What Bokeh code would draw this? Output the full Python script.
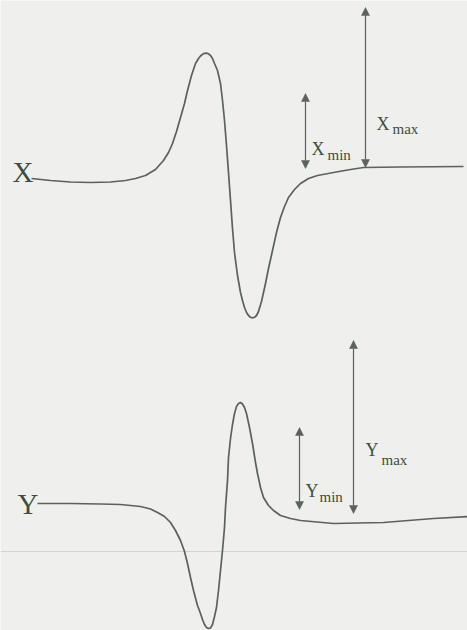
from bokeh.plotting import figure
from bokeh.models import Range1d, Arrow, NormalHead
from bokeh.core.properties import value
from bokeh.embed import file_html
from bokeh.resources import INLINE

# Upper trace (X): horizontal position and vertical level (downward-growing frame)
x_trace_pos = [31, 50, 70, 90, 110, 125, 135, 145, 155, 163, 168, 172, 176, 180,
               184, 187, 191, 195, 198, 200, 202, 204, 206, 208, 210, 212, 214,
               217, 220, 222, 224, 226, 228, 230, 232, 234, 237, 240, 242, 244,
               246, 248, 250, 252, 254, 256, 258, 261, 265, 268, 272, 276, 280,
               284, 288, 294, 300, 308, 317, 333, 350, 363, 400, 463]
x_trace_val = [178, 180, 181.5, 182, 181.5, 180, 178, 175, 169, 160, 152, 143, 131,
               117, 103, 90, 75, 63, 58, 55.5, 53.8, 52.8, 52.6, 53.3, 55, 58, 63,
               70, 83, 100, 120, 145, 172, 200, 228, 252, 275, 292, 300, 307,
               312, 315, 316.8, 317.4, 316.8, 315, 311, 301, 283, 268, 250, 232,
               217, 206, 197, 189, 183, 178, 175, 172, 169, 167, 166.5, 166]

# Lower trace (Y)
y_trace_pos = [37, 70, 100, 120, 140, 150, 157, 164, 170, 175, 180, 184, 187, 190,
               193, 197, 200, 202, 204, 206, 208, 210, 212, 214, 216, 218, 220,
               222, 224, 225, 227, 228, 230, 232, 234, 236, 238, 240, 242, 244,
               246, 249, 252, 255, 257, 260, 263, 268, 273, 280, 290, 300, 333,
               383, 433, 467]
y_trace_val = [503, 503, 503.5, 504, 506, 508.5, 512, 516, 522, 530, 540, 551, 563,
               577, 590, 605, 613, 619, 624, 627, 628, 627.5, 624, 616, 607, 590,
               570, 550, 527, 507, 480, 457, 438, 424, 413, 406, 403, 402, 403.5,
               407, 413, 427, 443, 462, 473, 487, 497, 505, 510, 515, 518, 520,
               523, 522, 518, 516]

# Double-headed range markers: column, top end, bottom end
marker_names = ["X_min", "X_max", "Y_min", "Y_max"]
marker_col = [305, 365, 299, 353]
marker_top = [93, 7, 427, 340]
marker_bot = [168, 167, 509, 513]

INK = "#596358"
TEXT = "#3b4f39"
BG = "#efefed"
SERIF = value("Liberation Serif")

p = figure(width=467, height=630, output_backend="svg", toolbar_location=None,
           x_range=Range1d(0, 467), y_range=Range1d(630, 0),
           min_border=0, outline_line_color=None,
           background_fill_color=BG, border_fill_color=BG)
p.axis.visible = False
p.grid.visible = False

# faint horizontal rule across the page
p.line(x=[0, 467], y=[551, 551], line_color="#d2d4d0", line_width=1)

p.line(x=x_trace_pos, y=x_trace_val, line_color=INK, line_width=1.7, line_join="round")
p.line(x=y_trace_pos, y=y_trace_val, line_color=INK, line_width=1.7, line_join="round")

for cx, t, b in zip(marker_col, marker_top, marker_bot):
    p.add_layout(Arrow(x_start=cx, y_start=b, x_end=cx, y_end=t,
                       line_color=INK, line_width=1.2,
                       start=NormalHead(size=8, fill_color=INK, line_color=INK, line_width=0.5),
                       end=NormalHead(size=8, fill_color=INK, line_color=INK, line_width=0.5)))

# trace names
p.text(x=[12, 17], y=[171, 503], text=["X", "Y"], text_font=SERIF,
       text_font_size="29px", text_color=TEXT, text_baseline="alphabetic")

# marker captions: main letter plus subscript
p.text(x=[311, 376, 305, 365], y=[148, 123, 490, 449],
       text=["X", "X", "Y", "Y"], text_font=SERIF, text_font_size="18px",
       text_color=TEXT, text_baseline="alphabetic")
p.text(x=[327, 392, 319, 381], y=[154, 128, 496, 459],
       text=["min", "max", "min", "max"], text_font=SERIF, text_font_size="15px",
       text_color=TEXT, text_baseline="alphabetic")

open("out.html", "w").write(file_html(p, INLINE))
